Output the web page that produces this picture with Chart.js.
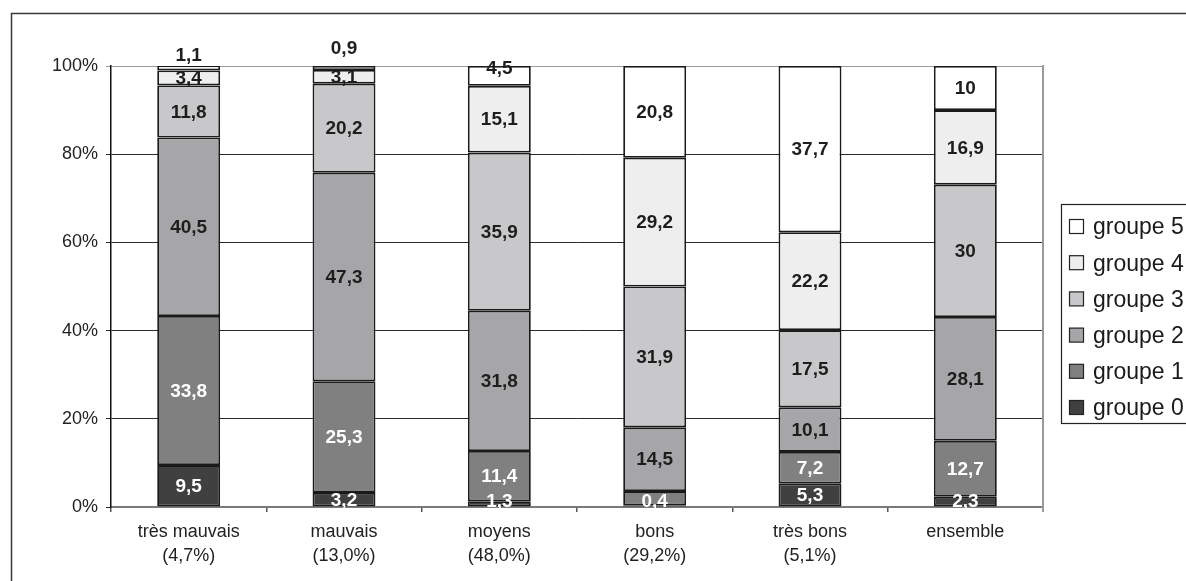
<!DOCTYPE html>
<html lang="fr">
<head>
<meta charset="utf-8">
<title>Répartition par groupe</title>
<script src="https://cdn.jsdelivr.net/npm/chart.js@4/dist/chart.umd.min.js"></script>
<style>
  html, body { margin: 0; padding: 0; background: #fff; }
  canvas { display: block; }
</style>
</head>
<body>
<canvas id="c" width="1186" height="581"></canvas>
<script>
// Categories (two-line axis labels)
const categories = [
  ['très mauvais', '(4,7%)'],
  ['mauvais', '(13,0%)'],
  ['moyens', '(48,0%)'],
  ['bons', '(29,2%)'],
  ['très bons', '(5,1%)'],
  ['ensemble', '']
];

// Share of each group, in percent
const groupe0 = [9.5, 3.2, 1.3, 0.4, 5.3, 2.3];
const groupe1 = [33.8, 25.3, 11.4, 3.2, 7.2, 12.7];
const groupe2 = [40.5, 47.3, 31.8, 14.5, 10.1, 28.1];
const groupe3 = [11.8, 20.2, 35.9, 31.9, 17.5, 30];
const groupe4 = [3.4, 3.1, 15.1, 29.2, 22.2, 16.9];
const groupe5 = [1.1, 0.9, 4.5, 20.8, 37.7, 10];

const seriesNames = ['groupe 0', 'groupe 1', 'groupe 2', 'groupe 3', 'groupe 4', 'groupe 5'];
const seriesValues = [groupe0, groupe1, groupe2, groupe3, groupe4, groupe5];
const yTicks = [0, 20, 40, 60, 80, 100];

const fills = ['#404040', '#808080', '#a6a6a8', '#c8c8ca', '#eeeeef', '#ffffff'];
const labelColors = ['#ffffff', '#ffffff', '#1e1e1e', '#1e1e1e', '#1e1e1e', '#1e1e1e'];
const FONT = '"Liberation Sans", Arial, sans-serif';

// label tweaks: hidden labels and vertical nudges (dataset:index)
const hiddenLabels = new Set(['1:3']);
const labelNudge = { '5:0': -13, '5:1': -20, '5:2': -8 };

const fmt = v => String(v).replace('.', ',');

const frame = {
  id: 'frame',
  beforeDraw(chart) {
    const ctx = chart.ctx;
    ctx.save();
    ctx.fillStyle = '#fff';
    ctx.fillRect(0, 0, chart.width, chart.height);
    ctx.strokeStyle = '#3a3a3a';
    ctx.lineWidth = 1.5;
    ctx.strokeRect(11.5, 13.5, 1300, 700);
    ctx.restore();
  },
  afterDraw(chart) {
    const ctx = chart.ctx;
    const a = chart.chartArea;
    ctx.save();
    // right edge of the plot
    ctx.strokeStyle = '#9a9a9a';
    ctx.lineWidth = 2;
    ctx.beginPath();
    ctx.moveTo(a.right, a.top - 1);
    ctx.lineTo(a.right, a.bottom + 5);
    ctx.stroke();

    // legend box
    ctx.strokeStyle = '#222';
    ctx.lineWidth = 1.2;
    ctx.strokeRect(1061.5, 204.5, 300, 219);
    ctx.font = '23px ' + FONT;
    ctx.textBaseline = 'middle';
    ctx.textAlign = 'left';
    for (let i = seriesNames.length - 1; i >= 0; i--) {
      const y = 227 + (seriesNames.length - 1 - i) * 36.2;
      ctx.fillStyle = fills[i];
      ctx.fillRect(1069.5, y - 7.5, 14, 14);
      ctx.strokeStyle = '#222';
      ctx.lineWidth = 1.2;
      ctx.strokeRect(1069.5, y - 7.5, 14, 14);
      ctx.fillStyle = '#1a1a1a';
      ctx.fillText(seriesNames[i], 1093, y + 1);
    }
    ctx.restore();
  }
};

const valueLabels = {
  id: 'valueLabels',
  afterDatasetsDraw(chart) {
    const ctx = chart.ctx;
    const a = chart.chartArea;
    ctx.save();
    ctx.font = 'bold 19px ' + FONT;
    ctx.textAlign = 'center';
    ctx.textBaseline = 'middle';
    chart.data.datasets.forEach((ds, i) => {
      const meta = chart.getDatasetMeta(i);
      meta.data.forEach((bar, j) => {
        const key = i + ':' + j;
        if (hiddenLabels.has(key)) return;
        const p = bar.getProps(['x', 'y', 'base'], true);
        let cy = (p.y + p.base) / 2 + (labelNudge[key] || 0);
        cy = Math.min(cy, a.bottom - 6);
        ctx.fillStyle = labelColors[i];
        ctx.fillText(fmt(ds.data[j]), p.x, cy + 1);
      });
    });
    ctx.restore();
  }
};

new Chart(document.getElementById('c'), {
  type: 'bar',
  data: {
    labels: categories,
    datasets: seriesValues.map((vals, i) => ({
      label: seriesNames[i],
      data: vals,
      backgroundColor: fills[i],
      borderColor: '#1a1a1a',
      borderWidth: 1.8,
      borderSkipped: false,
      barPercentage: 0.405,
      categoryPercentage: 1
    }))
  },
  options: {
    responsive: false,
    animation: false,
    layout: { padding: { top: 66, right: 143, left: 0, bottom: 0 } },
    plugins: {
      legend: { display: false },
      tooltip: { enabled: false }
    },
    scales: {
      x: {
        stacked: true,
        afterFit(scale) { scale.height = 74; },
        grid: {
          offset: true,
          drawOnChartArea: false,
          tickLength: 5,
          color: '#555',
          lineWidth: 1.5
        },
        border: { color: '#7a7a7a', width: 2 },
        ticks: {
          color: '#222',
          padding: 8,
          maxRotation: 0,
          autoSkip: false,
          font: { family: FONT, size: 18, lineHeight: 1.333 }
        }
      },
      y: {
        stacked: true,
        min: 0,
        max: 100,
        afterFit(scale) { scale.width = 111; },
        afterBuildTicks(scale) { scale.ticks = yTicks.map(v => ({ value: v })); },
        grid: {
          tickLength: 5,
          lineWidth: 1,
          color: ctx => (ctx.tick && ctx.tick.value === 100 ? '#9a9a9a' : '#2a2a2a')
        },
        border: { color: '#111', width: 1.5 },
        ticks: {
          color: '#222',
          padding: 8,
          font: { family: FONT, size: 18 },
          callback: v => v + '%'
        }
      }
    }
  },
  plugins: [frame, valueLabels]
});
</script>
</body>
</html>
